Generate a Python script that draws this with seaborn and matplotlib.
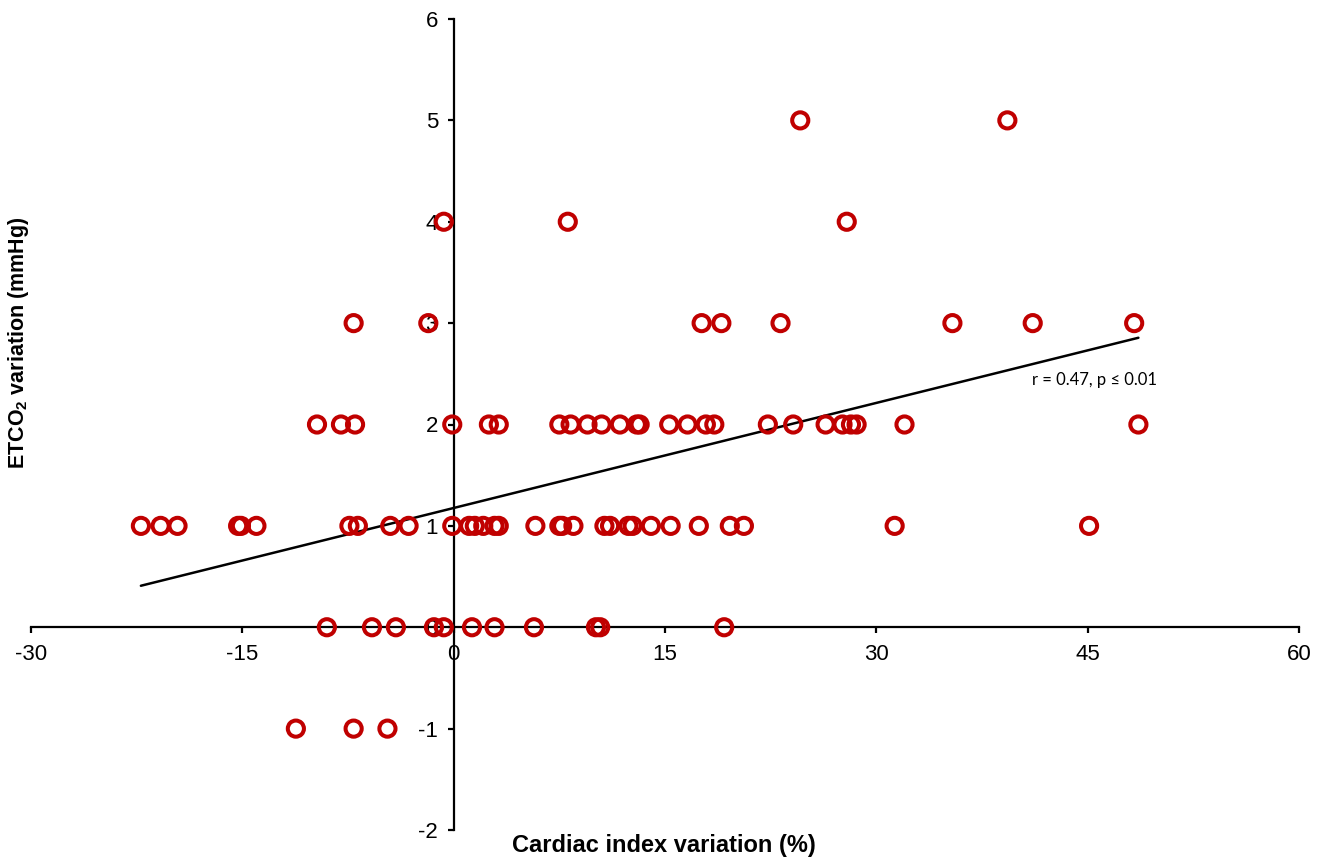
import numpy as np
import seaborn as sns
import matplotlib.pyplot as plt

# cardiac index variation (%) and ETCO2 variation (mmHg), read row by row
ci_row5 = [24.6, 39.3]
ci_row4 = [-0.7, 8.1, 27.9]
ci_row3 = [-7.1, -1.8, 17.6, 19.0, 23.2, 35.4, 41.1, 48.3]
ci_row2 = [-9.7, -8.0, -7.0, -0.1, 2.5, 3.2, 7.5, 8.3, 9.5, 10.5, 11.8, 13.0,
           13.2, 15.3, 16.6, 17.9, 18.5, 22.3, 24.1, 26.4, 27.6, 28.2, 28.6,
           32.0, 48.6]
ci_row1 = [-22.2, -20.8, -19.6, -15.3, -15.1, -14.0, -7.4, -6.8, -4.5, -3.2,
           -0.1, 1.1, 1.5, 2.1, 2.9, 3.2, 5.8, 7.5, 7.7, 8.5, 10.7, 11.1,
           12.4, 12.7, 14.0, 15.4, 17.4, 19.6, 20.6, 31.3, 45.1]
ci_row0 = [-9.0, -5.8, -4.1, -1.4, -0.7, 1.3, 2.9, 5.7, 10.1, 10.4, 19.2]
ci_rowm1 = [-11.2, -7.1, -4.7]

etco2_levels = [5, 4, 3, 2, 1, 0, -1]
ci_rows = [ci_row5, ci_row4, ci_row3, ci_row2, ci_row1, ci_row0, ci_rowm1]

ci = []
etco2 = []
for lvl, row in zip(etco2_levels, ci_rows):
    ci += row
    etco2 += [lvl] * len(row)
ci = np.array(ci)
etco2 = np.array(etco2)

x_ticks = [-30, -15, 0, 15, 30, 45, 60]
y_ticks = [-2, -1, 0, 1, 2, 3, 4, 5, 6]

sns.set_style('white')
plt.rcParams['font.family'] = ['Liberation Sans', 'DejaVu Sans']
plt.rcParams['axes.unicode_minus'] = False
plt.rcParams['mathtext.default'] = 'regular'
plt.rcParams['text.color'] = 'black'

fig = plt.figure(figsize=(13.23, 8.58), dpi=100)
ax = fig.add_axes([31 / 1323, 1 - 830 / 858, 1268 / 1323, 811 / 858])

sns.regplot(x=ci, y=etco2, scatter=False, ci=None, color='black',
            line_kws={'linewidth': 1.8}, ax=ax)
sns.scatterplot(x=ci, y=etco2, marker='o', s=135, color='#c00000',
                facecolor='none', edgecolor='#c00000', linewidth=2.9, ax=ax,
                zorder=3)

ax.set_xlim(-30, 60)
ax.set_ylim(-2, 6)
ax.set_xticks(x_ticks)
ax.set_yticks(y_ticks)
ax.set_xlabel('')
ax.set_ylabel('')

ax.spines['left'].set_position(('data', 0))
ax.spines['bottom'].set_position(('data', 0))
ax.spines['top'].set_visible(False)
ax.spines['right'].set_visible(False)
for sp in ['left', 'bottom']:
    ax.spines[sp].set_color('black')
    ax.spines[sp].set_linewidth(1.6)
ax.tick_params(axis='both', which='major', direction='out', length=4.3, width=1.6,
               labelsize=16, colors='black', labelcolor='black',
               bottom=True, left=True)
ax.tick_params(axis='x', pad=8)
ax.tick_params(axis='y', pad=7)

ax.text(45.5, 2.44, 'r = 0.47, p \u2264 0.01', fontsize=12, family=['Lato', 'DejaVu Sans'],
        ha='center', va='center', color='black')

fig.text(0.502, 0.015, 'Cardiac index variation (%)', fontsize=17, fontweight='bold',
         ha='center', va='center', color='black')
fig.text(0.014, 0.601, 'ETCO$_2$ variation (mmHg)', fontsize=15.5, fontweight='bold',
         ha='center', va='center', rotation=90, color='black')

fig.savefig('out.png', dpi=100)
